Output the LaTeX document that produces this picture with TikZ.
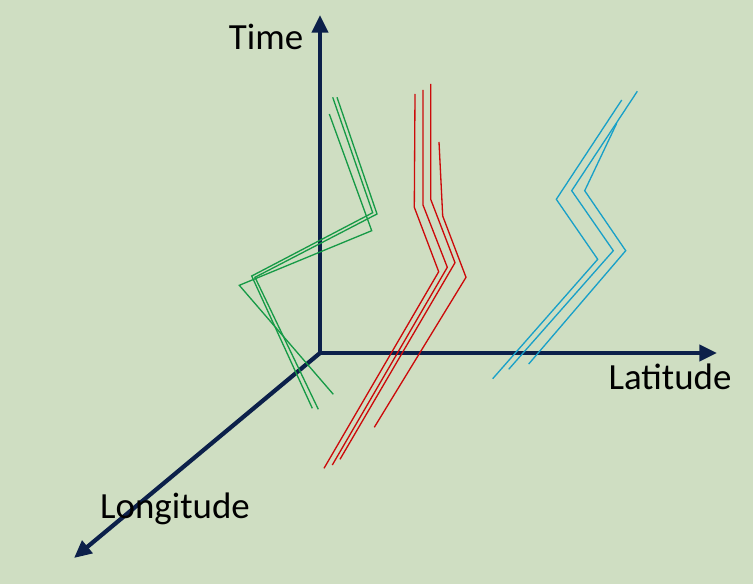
\documentclass[tikz,border=0pt]{standalone}
\usepackage{fontspec}
\setmainfont{Carlito}
\usetikzlibrary{arrows.meta}
\definecolor{bgcol}{RGB}{207,222,194}
\definecolor{axiscol}{RGB}{12,32,74}
\definecolor{trkgreen}{RGB}{22,154,70}
\definecolor{trkred}{RGB}{204,10,10}
\definecolor{trkcyan}{RGB}{24,160,200}
\tikzset{
  axis/.style={line width=2.4pt, axiscol, -{Triangle[length=10pt, width=9pt]}},
  track/.style={line width=0.75pt, line join=miter},
  axislabel/.style={anchor=base, inner sep=0pt, font=\fontsize{21}{25}\selectfont}
}

\begin{document}
\begin{tikzpicture}[x=0.02cm, y=-0.02cm]
            % ==== BACKGROUND ====
            \fill[bgcol] (0,0) rectangle (753,584);
            \useasboundingbox (0,0) rectangle (753,584);
            % ==== AXES ====
            \coordinate (origin) at (320,353);
            \coordinate (timeend) at (320,15);
            \coordinate (latend) at (717,353);
            \coordinate (lonend) at (74,558);
            \draw[axis] (origin) -- (timeend);
            \draw[axis] (origin) -- (latend);
            \draw[axis] (origin) -- (lonend);
            \node[axislabel] (time) at (266,50) {Time};
            \node[axislabel] (lat) at (670,389) {Latitude};
            \node[axislabel] (lon) at (175,518) {Longitude};
            % ==== GREEN TRACKS ====
            \draw[track, trkgreen] (332.7,97.3) -- (372.7,212.7) -- (251.7,276) -- (312.3,408.3);
            \draw[track, trkgreen] (337,97.3) -- (377,214) -- (255,277.3) -- (318.3,409.3);
            \draw[track, trkgreen] (329.3,114) -- (371.7,230.7) -- (239.3,285.3) -- (333.3,394.3);
            % ==== RED TRACKS ====
            \draw[track, trkred] (415,94) -- (414.3,207.3) -- (438.7,271.7) -- (324,468.3);
            \draw[track, trkred] (423,90) -- (423,205) -- (447.3,267.3) -- (332.3,465);
            \draw[track, trkred] (430.7,84) -- (430.7,199.3) -- (455,262.7) -- (340,459.3);
            \draw[track, trkred] (439,142) -- (442.7,216) -- (466,277.3) -- (374.3,427.3);
            % ==== CYAN TRACKS ====
            \draw[track, trkcyan] (621.7,100) -- (556.3,199.3) -- (597.7,259.3) -- (492.7,378.7);
            \draw[track, trkcyan] (637.3,91.3) -- (571.7,190.7) -- (613.3,250.7) -- (508.7,369.3);
            \draw[track, trkcyan] (616.7,123.3) -- (584.7,190.7) -- (625.7,250.7) -- (528.7,364);
\end{tikzpicture}
\end{document}
